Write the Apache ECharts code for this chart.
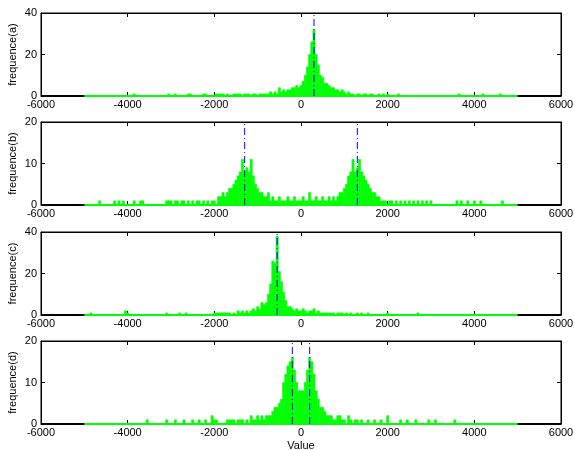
<!DOCTYPE html>
<html>
<head>
<meta charset="utf-8">
<script src="https://cdn.jsdelivr.net/npm/echarts@6/dist/echarts.min.js"></script>
<style>
html,body{margin:0;padding:0;background:#fff}
#main{width:575px;height:450px}
</style>
</head>
<body>
<div id="main"></div>
<script>
// histogram bins: [bin centre, count], bins of width 50, empty bins left out
var binWidth = 50;
var histRange = [-5000, 5000];
var axisRange = [-6000, 6000];

var histA = [[-3850,1],[-3050,1],[-2900,1],[-2600,1],[-2550,1],[-2250,1],[-2200,1],[-1950,1],[-1900,1],[-1850,1],[-1800,1],[-1700,1],
  [-1550,1],[-1500,1],[-1450,1],[-1400,1],[-1300,1],[-1250,1],[-1200,1],[-1100,1],[-1050,1],[-950,1],[-900,1],[-850,1],[-800,1],
  [-750,1],[-700,2],[-650,1],[-600,2],[-550,1],[-500,4],[-450,2],[-400,3],[-350,2],[-300,3],[-250,3],[-200,4],[-150,4],[-100,5],
  [-50,4],[0,5],[50,7],[100,10],[150,14],[200,20],[250,26],[300,32],[350,20],[400,15],[450,10],[500,9],[550,6],[600,6],[650,5],
  [700,4],[750,4],[800,3],[850,3],[900,2],[950,3],[1000,2],[1050,1],[1100,2],[1150,1],[1200,1],[1300,1],[1350,1],[1450,1],
  [1500,1],[1600,1],[1650,1],[1800,1],[1900,1],[2000,1],[2250,1],[3650,1],[4200,1],[4600,1]];

var histB = [[-4650,1],[-4300,1],[-4200,1],[-4100,1],[-3850,1],[-3700,1],[-3650,1],[-3100,1],[-3050,1],[-3000,1],[-2900,1],
  [-2850,1],[-2750,1],[-2700,1],[-2600,1],[-2500,1],[-2400,1],[-2350,1],[-2250,1],[-2150,1],[-2050,1],[-2000,1],[-1900,2],
  [-1850,2],[-1800,3],[-1750,2],[-1700,3],[-1650,4],[-1600,4],[-1550,5],[-1500,6],[-1450,7],[-1400,8],[-1350,11],[-1300,8],
  [-1250,9],[-1200,8],[-1150,11],[-1100,7],[-1050,5],[-1000,4],[-950,3],[-900,3],[-850,2],[-800,2],[-750,3],[-700,1],[-650,2],
  [-600,1],[-550,1],[-500,2],[-450,1],[-400,1],[-350,1],[-300,2],[-250,1],[-200,1],[-150,2],[-100,1],[-50,1],[0,1],[50,2],
  [100,1],[150,1],[200,3],[250,1],[300,1],[350,2],[400,1],[450,1],[500,2],[550,1],[600,1],[650,2],[700,1],[750,2],[800,1],
  [850,2],[900,3],[950,3],[1000,4],[1050,5],[1100,7],[1150,8],[1200,11],[1250,8],[1300,9],[1350,11],[1400,8],[1450,7],
  [1500,6],[1550,5],[1600,4],[1650,3],[1700,3],[1750,2],[1800,2],[1850,1],[1900,1],[1950,1],[2050,1],[2100,1],[2200,1],
  [2300,1],[2400,1],[2500,1],[2600,1],[2700,1],[2800,1],[2900,1],[3000,1],[3600,1],[3700,1],[3850,1],[4000,1],[4150,1],[4650,1]];

var histC = [[-4850,1],[-4050,2],[-4000,1],[-3100,1],[-2800,1],[-2650,1],[-2000,1],[-1950,1],[-1900,1],[-1850,1],[-1800,1],
  [-1750,1],[-1700,1],[-1650,1],[-1550,1],[-1450,2],[-1400,1],[-1350,2],[-1300,1],[-1250,2],[-1200,1],[-1150,2],[-1100,3],
  [-1050,2],[-1000,4],[-950,3],[-900,6],[-850,5],[-800,6],[-750,10],[-700,15],[-650,26],[-600,25],[-550,38],[-500,21],
  [-450,16],[-400,11],[-350,7],[-300,4],[-250,4],[-200,3],[-150,2],[-100,3],[-50,2],[0,2],[50,3],[100,2],[150,1],[200,2],
  [250,2],[300,3],[350,1],[400,2],[450,1],[500,1],[550,1],[600,1],[650,1],[700,1],[750,1],[850,1],[900,1],[950,1],[1050,1],
  [1150,1],[1300,1],[1400,1],[1550,1],[2000,1],[2700,1]];

var histD = [[-3550,1],[-3100,1],[-2900,1],[-2700,1],[-2500,1],[-2350,1],[-2200,1],[-2050,2],[-2000,1],[-1950,1],[-1700,1],
  [-1650,1],[-1600,1],[-1550,1],[-1450,1],[-1400,1],[-1350,1],[-1250,1],[-1150,2],[-1100,1],[-1050,1],[-1000,2],[-950,1],
  [-900,2],[-850,1],[-800,2],[-750,2],[-700,2],[-650,3],[-600,4],[-550,4],[-500,5],[-450,6],[-400,10],[-350,12],[-300,14],
  [-250,15],[-200,16],[-150,13],[-100,10],[-50,8],[0,8],[50,8],[100,10],[150,13],[200,16],[250,15],[300,12],[350,8],[400,6],
  [450,4],[500,4],[550,3],[600,2],[650,2],[700,2],[750,1],[800,1],[850,2],[900,2],[950,1],[1000,1],[1100,2],[1150,1],[1250,1],
  [1300,1],[1400,1],[1550,1],[1700,1],[1850,1],[2000,2],[2300,1],[2450,1],[2650,1],[2950,1],[3100,1],[3550,1]];

// dash-dot markers at the peaks
var peaksA = [300];
var peaksB = [-1300, 1300];
var peaksC = [-550];
var peaksD = [-200, 200];

var yNames = ['frequence(a)', 'frequence(b)', 'frequence(c)', 'frequence(d)'];
var yMax = [40, 20, 40, 20];
var yStep = [20, 10, 20, 10];
var xTickStep = 2000;

var hists = [histA, histB, histC, histD];
var peaks = [peaksA, peaksB, peaksC, peaksD];
var gridTops = [13, 122, 232, 341];
var font = 'Liberation Sans, Arial, Helvetica, sans-serif';

function renderBar(params, api) {
    var c = api.value(0), n = api.value(1);
    var p0 = api.coord([c - binWidth / 2, 0]);
    var p1 = api.coord([c + binWidth / 2, n]);
    return {
        type: 'rect',
        shape: {x: p0[0], y: p1[1], width: p1[0] - p0[0], height: p0[1] - p1[1]},
        style: {fill: '#00ff00', stroke: '#00ff00', lineWidth: 0.6}
    };
}

function plainNum(v) {
    return String(v);
}

var grids = [], xAxes = [], yAxes = [], series = [];
var tick = {inside: true, length: 4, lineStyle: {color: '#000', width: 1}};
var line = {show: true, onZero: false, lineStyle: {color: '#000', width: 1}};

for (let i = 0; i < 4; i++) {
    grids.push({left: 41, width: 520, top: gridTops[i], height: 83, show: true, outerBoundsMode: 'none',
        containLabel: false, borderColor: '#000', borderWidth: 1, backgroundColor: '#fff'});
    xAxes.push({type: 'value', gridIndex: i, position: 'bottom', min: axisRange[0], max: axisRange[1], interval: xTickStep,
        axisLine: line, axisTick: tick, splitLine: {show: false},
        axisLabel: {color: '#000', fontSize: 11, fontFamily: font, margin: 3, formatter: plainNum},
        name: i === 3 ? 'Value' : '', nameLocation: 'middle', nameGap: 16, nameMoveOverlap: false,
        nameTextStyle: {color: '#000', fontSize: 11, fontFamily: font}});
    xAxes.push({type: 'value', gridIndex: i, position: 'top', min: axisRange[0], max: axisRange[1], interval: xTickStep,
        axisLine: line, axisTick: tick, axisLabel: {show: false}, splitLine: {show: false}});
    yAxes.push({type: 'value', gridIndex: i, position: 'left', min: 0, max: yMax[i], interval: yStep[i],
        axisLine: line, axisTick: tick, splitLine: {show: false},
        axisLabel: {color: '#000', fontSize: 11, fontFamily: font, margin: 4, formatter: plainNum},
        name: yNames[i], nameLocation: 'middle', nameGap: 23, nameMoveOverlap: false,
        nameTextStyle: {color: '#000', fontSize: 11, fontFamily: font}});
    yAxes.push({type: 'value', gridIndex: i, position: 'right', min: 0, max: yMax[i], interval: yStep[i],
        axisLine: line, axisTick: tick, axisLabel: {show: false}, splitLine: {show: false}});

    // black zero line across the whole axis, green one across the histogram range
    series.push({type: 'line', xAxisIndex: 2 * i, yAxisIndex: 2 * i, symbol: 'none', silent: true, z: 2,
        data: [[axisRange[0], 0], [axisRange[1], 0]], lineStyle: {color: '#000', width: 2}});
    series.push({type: 'custom', xAxisIndex: 2 * i, yAxisIndex: 2 * i, renderItem: renderBar, clip: true, z: 3,
        encode: {x: 0, y: 1}, data: hists[i]});
    series.push({type: 'line', xAxisIndex: 2 * i, yAxisIndex: 2 * i, symbol: 'none', silent: true, z: 4,
        data: [[histRange[0], 0], [histRange[1], 0]], lineStyle: {color: '#00ff00', width: 2}});
    peaks[i].forEach(function (px) {
        series.push({type: 'line', xAxisIndex: 2 * i, yAxisIndex: 2 * i, symbol: 'none', silent: true, z: 5,
            data: [[px, 0], [px, yMax[i]]], lineStyle: {color: '#0000ff', width: 1, type: [7, 3, 1, 3]}});
    });
}

var myChart = echarts.init(document.getElementById('main'));
myChart.setOption({
    animation: false,
    backgroundColor: '#fff',
    grid: grids,
    xAxis: xAxes,
    yAxis: yAxes,
    series: series
});
</script>
</body>
</html>
